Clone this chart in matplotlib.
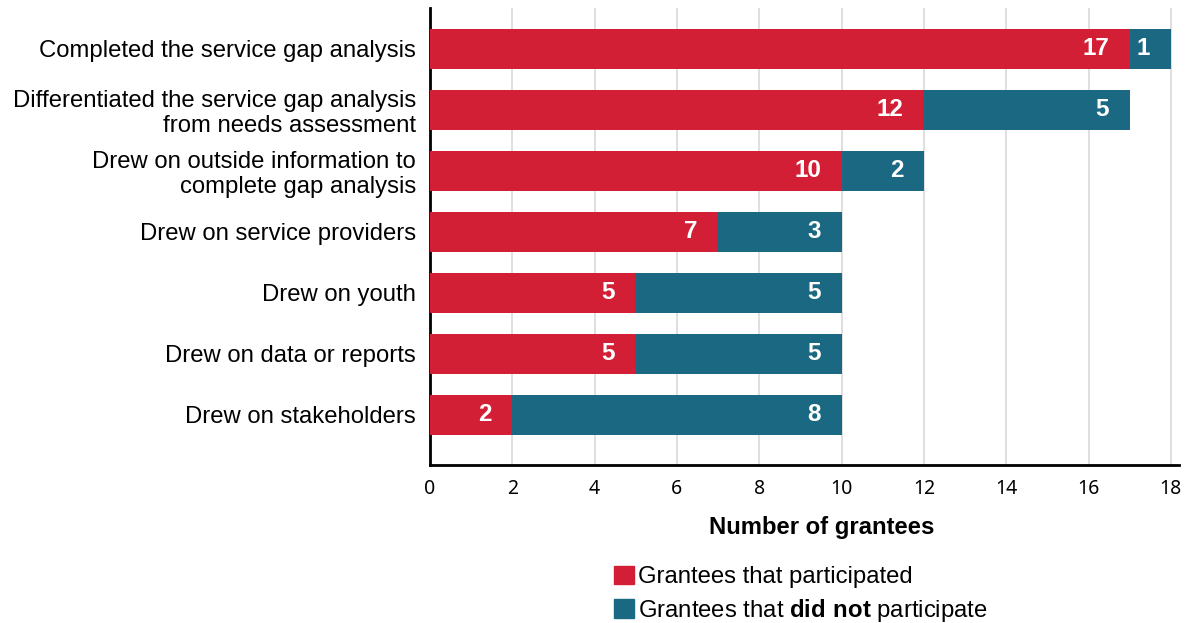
import matplotlib
matplotlib.use("Agg")
import matplotlib.pyplot as plt
from matplotlib.patches import Patch

categories = [
    "Completed the service gap analysis",
    "Differentiated the service gap analysis\nfrom needs assessment",
    "Drew on outside information to\ncomplete gap analysis",
    "Drew on service providers",
    "Drew on youth",
    "Drew on data or reports",
    "Drew on stakeholders",
]
participated = [17, 12, 10, 7, 5, 5, 2]
did_not = [1, 5, 2, 3, 5, 5, 8]
x_ticks = [0, 2, 4, 6, 8, 10, 12, 14, 16, 18]

red = "#D21F35"
teal = "#1A6882"

plt.rcParams['font.family'] = ['Liberation Sans', 'DejaVu Sans']
plt.rcParams['mathtext.fontset'] = 'custom'
plt.rcParams['mathtext.rm'] = 'Liberation Sans'
plt.rcParams['mathtext.bf'] = 'Liberation Sans:bold'

fs = 17.2

fig = plt.figure(figsize=(11.91, 6.23), dpi=100)
ax = fig.add_axes([0.361, 0.2536, 0.629, 0.7335])

ypos = list(range(len(categories)))
h = 0.66
ax.barh(ypos, participated, height=h, color=red, zorder=3)
ax.barh(ypos, did_not, left=participated, height=h, color=teal, zorder=3)

for y, p, d in zip(ypos, participated, did_not):
    ax.text(p - 0.5, y, str(p), ha='right', va='center', color='white',
            fontsize=17.5, fontweight='bold', zorder=4)
    ax.text(p + d - 0.5, y, str(d), ha='right', va='center', color='white',
            fontsize=17.5, fontweight='bold', zorder=4)

ax.set_ylim(6.82, -0.67)
ax.set_xlim(0, 18.2)
ax.set_yticks(ypos)
ax.set_yticklabels(categories, fontsize=fs, linespacing=1.15)
ax.set_xticks(x_ticks)
ax.set_xticklabels([str(t) for t in x_ticks], fontsize=14, family=['Noto Sans', 'DejaVu Sans'])
ax.tick_params(axis='both', length=0)
ax.tick_params(axis='x', pad=10)
ax.tick_params(axis='y', pad=10)

ax.grid(axis='x', color='#d9d9d9', linewidth=1.2, zorder=0)
ax.set_axisbelow(True)
for s in ['top', 'right']:
    ax.spines[s].set_visible(False)
for s in ['left', 'bottom']:
    ax.spines[s].set_linewidth(2)
    ax.spines[s].set_color('black')

ax.set_xlabel("Number of grantees", fontsize=fs, fontweight='bold')
ax.xaxis.set_label_coords(0.523, -0.112)

handles = [Patch(color=red), Patch(color=teal)]
labels = ["Grantees that participated",
          r"Grantees that $\mathbf{did\ not}$ participate"]
fig.legend(handles, labels, loc='upper left', bbox_to_anchor=(0.5155, 0.092),
           bbox_transform=fig.transFigure, frameon=False, fontsize=fs,
           handlelength=0.82, handleheight=0.82, handletextpad=0.2,
           labelspacing=0.35, borderaxespad=0, borderpad=0)

fig.savefig("out.png", dpi=100)
